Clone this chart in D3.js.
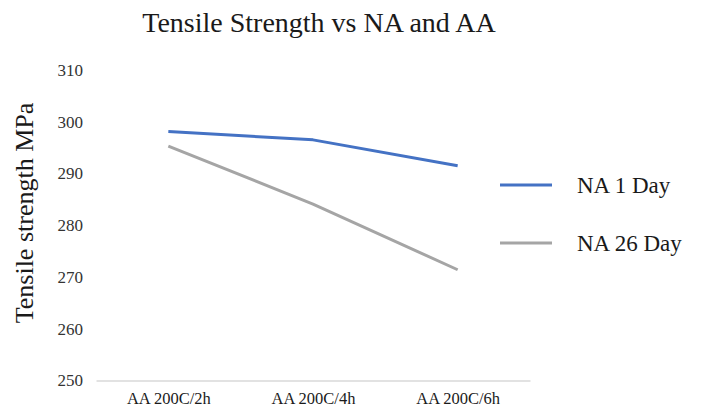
<!DOCTYPE html>
<html>
<head>
<meta charset="utf-8">
<script src="https://cdn.jsdelivr.net/npm/d3@7"></script>
<style>
  html, body { margin: 0; padding: 0; background: #fff; }
  svg { display: block; font-family: "Liberation Serif", "Times New Roman", serif; }
</style>
</head>
<body>
<svg id="chart" width="704" height="408"></svg>
<script>
// Tensile strength (MPa) after natural ageing, by artificial ageing condition
const categories = ["AA 200C/2h", "AA 200C/4h", "AA 200C/6h"];
const na1Day = [298.1, 296.5, 291.5];
const na26Day = [295.3, 284.1, 271.4];
const seriesNames = ["NA 1 Day", "NA 26 Day"];
const seriesColors = ["#4472c4", "#a5a5a5"];
const yTicks = [250, 260, 270, 280, 290, 300, 310];

const series = [
  { name: seriesNames[0], values: na1Day, color: seriesColors[0] },
  { name: seriesNames[1], values: na26Day, color: seriesColors[1] }
];

const serif = "Liberation Serif";
const svg = d3.select("#chart");

const x = d3.scalePoint().domain(categories).range([96, 530]).padding(0.5);
const y = d3.scaleLinear().domain([250, 310]).range([380.5, 70]);

// Title
svg.append("text")
  .attr("x", 319).attr("y", 32)
  .attr("text-anchor", "middle")
  .style("font-family", serif)
  .style("font-size", "28px")
  .attr("fill", "#1a1a1a")
  .text("Tensile Strength vs NA and AA");

// Y axis title
svg.append("text")
  .attr("transform", "translate(33,213) rotate(-90)")
  .attr("text-anchor", "middle")
  .style("font-family", serif)
  .style("font-size", "26px")
  .attr("fill", "#1a1a1a")
  .text("Tensile strength MPa");

// Y tick labels (no axis line, no gridlines)
const yAxis = svg.append("g")
  .attr("transform", "translate(90,0)")
  .call(d3.axisLeft(y).tickValues(yTicks).tickSize(0).tickPadding(7));
yAxis.select(".domain").remove();
yAxis.selectAll("text")
  .style("font-family", serif)
  .style("font-size", "17px")
  .attr("fill", "#333");

// X axis line and category labels
const xAxis = svg.append("g")
  .attr("transform", `translate(0,${y(250)})`)
  .call(d3.axisBottom(x).tickSize(0).tickPadding(12));
xAxis.select(".domain")
  .attr("stroke", "#d9d9d9")
  .attr("stroke-width", 1.5);
xAxis.selectAll("text")
  .style("font-family", serif)
  .style("font-size", "16.5px")
  .attr("fill", "#1a1a1a");

// Series lines
const line = d3.line()
  .x((d, i) => x(categories[i]))
  .y(d => y(d));

svg.append("g").selectAll("path")
  .data(series)
  .join("path")
  .attr("d", d => line(d.values))
  .attr("fill", "none")
  .attr("stroke", d => d.color)
  .attr("stroke-width", 3)
  .attr("stroke-linejoin", "round");

// Legend
const legend = svg.append("g").selectAll("g")
  .data(series)
  .join("g")
  .attr("transform", (d, i) => `translate(500,${185 + i * 58})`);
legend.append("line")
  .attr("x1", 0).attr("x2", 52)
  .attr("stroke", d => d.color)
  .attr("stroke-width", 3);
legend.append("text")
  .attr("x", 77).attr("y", 0)
  .attr("dy", "0.35em")
  .style("font-family", serif)
  .style("font-size", "23px")
  .attr("fill", "#1a1a1a")
  .text(d => d.name);
</script>
</body>
</html>
